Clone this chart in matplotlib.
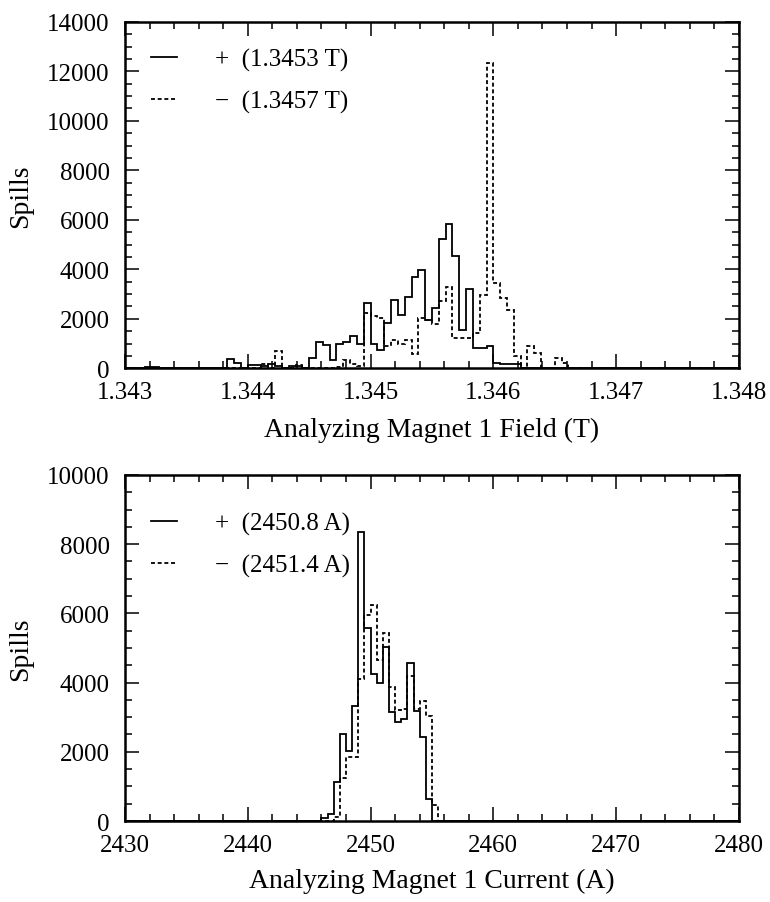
import numpy as np
import matplotlib
matplotlib.use("Agg")
import matplotlib.pyplot as plt
from matplotlib.lines import Line2D
from matplotlib.ticker import MultipleLocator, FormatStrFormatter

# --- data: spills per bin ---
# field histogram: 90 bins from 1.343 T to 1.348 T
field_lo, field_hi, field_nbins = 1.343, 1.348, 90
field_plus = ([0, 0, 0, 70, 70, 0, 0, 0, 0, 0,
               0, 0, 0, 0, 0, 360, 215, 0, 135, 135,
               110, 160, 110, 30, 80, 80, 20, 400, 1070, 930,
               320, 980, 1070, 1300, 1000, 2620, 1000, 750, 1850, 2750,
               2170, 2900, 3700, 3960, 1940, 2420, 5230, 5820, 4540, 1555,
               3190, 820, 820, 910, 215, 190, 190, 160, 0, 0]
              + [0] * 30)
field_minus = ([0] * 20
               + [190, 0, 690, 0, 0, 150, 0, 0, 0, 0,
                  0, 40, 335, 160, 110, 2250, 2120, 2020, 910, 1150,
                  980, 1150, 580, 2050, 1950, 1790, 2720, 3270, 1220, 1220,
                  1220, 1430, 2950, 12350, 3450, 2840, 2370, 485, 15, 890,
                  620, 0, 0, 400, 200, 0, 0, 0, 0, 0]
               + [0] * 20)
field_labels = ["+  (1.3453 T)", "\u2212  (1.3457 T)"]

# current histogram: 100 bins from 2430 A to 2480 A
curr_lo, curr_hi, curr_nbins = 2430, 2480, 100
curr_plus = ([0] * 32
             + [100, 200, 1130, 2500, 2010, 3330, 8340, 5580, 4260, 3990,
                5030, 3140, 2860, 2940, 4570, 3190, 2420, 635, 0]
             + [0] * 49)
curr_minus = ([0] * 32
              + [0, 0, 130, 1250, 1860, 1860, 4100, 5960, 6240, 4640,
                 5420, 3870, 3200, 3250, 4200, 3250, 3480, 3040, 470]
              + [0] * 49)
curr_labels = ["+  (2450.8 A)", "\u2212  (2451.4 A)"]

plt.rcParams["font.family"] = ["Liberation Serif", "DejaVu Serif"]
plt.rcParams["font.size"] = 18

DASH = (0, (2.2, 1.5))
LW = 1.3


def style_axes(ax):
    for s in ax.spines.values():
        s.set_linewidth(1.8)
    ax.tick_params(which="both", direction="in", top=True, right=True,
                   width=1.1, labelsize=18)
    ax.tick_params(which="major", length=10)
    ax.tick_params(which="minor", length=5)
    ax.tick_params(axis="y", pad=11)
    ax.tick_params(axis="x", pad=9)


def draw_panel(ax, lo, hi, nbins, plus, minus, labels, legend_top=1.0):
    edges = np.linspace(lo, hi, nbins + 1)
    ax.stairs(plus, edges, color="black", lw=LW)
    ax.stairs(minus, edges, color="black", lw=LW, linestyle=DASH)
    handles = [Line2D([], [], color="black", lw=LW),
               Line2D([], [], color="black", lw=LW, linestyle=DASH)]
    ax.legend(handles, labels, loc="upper left", frameon=False,
              bbox_to_anchor=(0, legend_top),
              handlelength=1.05, handletextpad=1.5, labelspacing=0.75,
              borderaxespad=0.65, fontsize=18)
    ax.set_xlim(lo, hi)


fig = plt.figure(figsize=(7.7, 9.03), dpi=100)
ax1 = fig.add_axes([0.1623, 0.591, 0.7974, 0.3838])
ax2 = fig.add_axes([0.1623, 0.0897, 0.7974, 0.3832])

draw_panel(ax1, field_lo, field_hi, field_nbins, field_plus, field_minus, field_labels)
ax1.set_ylim(0, 14000)
ax1.xaxis.set_major_locator(MultipleLocator(0.001))
ax1.xaxis.set_minor_locator(MultipleLocator(0.0002))
ax1.xaxis.set_major_formatter(FormatStrFormatter("%.3f"))
ax1.yaxis.set_major_locator(MultipleLocator(2000))
ax1.yaxis.set_minor_locator(MultipleLocator(500))
ax1.set_xlabel("Analyzing Magnet 1 Field (T)", fontsize=20, labelpad=10)
ax1.set_ylabel("Spills", fontsize=20, labelpad=10)
style_axes(ax1)

draw_panel(ax2, curr_lo, curr_hi, curr_nbins, curr_plus, curr_minus, curr_labels,
           legend_top=0.968)
ax2.set_ylim(0, 10000)
ax2.xaxis.set_major_locator(MultipleLocator(10))
ax2.xaxis.set_minor_locator(MultipleLocator(2))
ax2.yaxis.set_major_locator(MultipleLocator(2000))
ax2.yaxis.set_minor_locator(MultipleLocator(500))
ax2.set_xlabel("Analyzing Magnet 1 Current (A)", fontsize=20, labelpad=9)
ax2.set_ylabel("Spills", fontsize=20, labelpad=10)
style_axes(ax2)

fig.savefig("out.png", dpi=100)
